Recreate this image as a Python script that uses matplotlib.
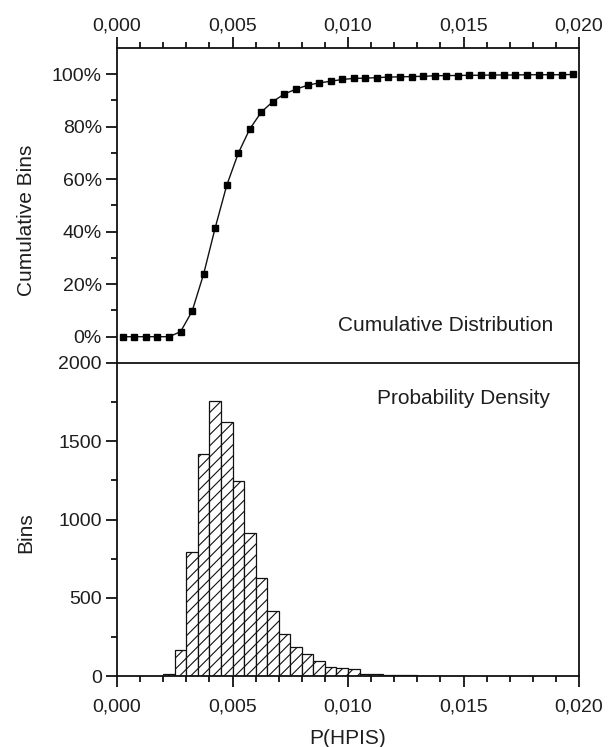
import matplotlib
matplotlib.use("Agg")
import matplotlib.pyplot as plt
from matplotlib.ticker import FixedLocator, MultipleLocator, FuncFormatter
import numpy as np

plt.rcParams['font.family'] = ['Liberation Sans', 'DejaVu Sans']
plt.rcParams['hatch.linewidth'] = 0.8

# ---- data ----
bin_width = 0.0005
hist_left_edges = [0.0020, 0.0025, 0.0030, 0.0035, 0.0040, 0.0045, 0.0050, 0.0055,
                   0.0060, 0.0065, 0.0070, 0.0075, 0.0080, 0.0085, 0.0090, 0.0095,
                   0.0100, 0.0105, 0.0110, 0.0115, 0.0120, 0.0125, 0.0130, 0.0135,
                   0.0140, 0.0145]
hist_counts = [10, 166, 795, 1417, 1760, 1621, 1246, 912,
               624, 415, 271, 183, 141, 94, 58, 53,
               43, 15, 12, 9, 7, 5, 2, 3,
               3, 1]

cum_x = [0.00025, 0.00075, 0.00125, 0.00175, 0.00225, 0.00275, 0.00325, 0.00375,
         0.00425, 0.00475, 0.00525, 0.00575, 0.00625, 0.00675, 0.00725, 0.00775,
         0.00825, 0.00875, 0.00925, 0.00975, 0.01025, 0.01075, 0.01125, 0.01175,
         0.01225, 0.01275, 0.01325, 0.01375, 0.01425, 0.01475, 0.01525, 0.01575,
         0.01625, 0.01675, 0.01725, 0.01775, 0.01825, 0.01875, 0.01925, 0.01975]
cum_pct = [0, 0, 0, 0, 0, 1.9, 9.7, 23.9,
           41.5, 57.7, 69.9, 79.2, 85.6, 89.6, 92.5, 94.3,
           95.8, 96.7, 97.3, 98.0, 98.4, 98.5, 98.7, 98.9,
           99.0, 99.1, 99.2, 99.4, 99.5, 99.5, 99.6, 99.6,
           99.7, 99.7, 99.7, 99.8, 99.8, 99.8, 99.8, 99.9]

x_major = [0.000, 0.005, 0.010, 0.015, 0.020]
cum_yticks = [0, 20, 40, 60, 80, 100]
bin_yticks = [0, 500, 1000, 1500, 2000]

TXT = '#1e1e1e'
FS_TICK = 14
FS_LABEL = 15

fig = plt.figure(figsize=(6.14, 7.47), dpi=100)
ax_top = fig.add_axes([0.1906, 0.5141, 0.7524, 0.4217])
ax_bot = fig.add_axes([0.1906, 0.0950, 0.7524, 0.4191])

comma_fmt = FuncFormatter(lambda v, p: f"{v:.3f}".replace('.', ','))

for ax in (ax_top, ax_bot):
    ax.set_xlim(0, 0.020)
    for s in ax.spines.values():
        s.set_linewidth(1.3)
        s.set_color('#111111')
    ax.xaxis.set_major_locator(FixedLocator(x_major))
    ax.xaxis.set_minor_locator(MultipleLocator(0.001))
    ax.xaxis.set_major_formatter(comma_fmt)
    ax.tick_params(which='major', direction='out', length=8, width=1.3,
                   labelsize=FS_TICK, labelcolor=TXT, color='#111111')
    ax.tick_params(which='minor', direction='out', length=4, width=1.3, color='#111111')
    ax.tick_params(axis='y', which='both', left=True, right=False, pad=3)

# ---- top: cumulative distribution ----
ax_top.plot(cum_x, cum_pct, color='#111111', lw=1.0, marker='s', ms=3.8,
            mfc='#000000', mec='#000000', zorder=3, clip_on=False)
ax_top.set_ylim(-10, 110)
ax_top.yaxis.set_major_locator(FixedLocator(cum_yticks))
ax_top.yaxis.set_minor_locator(FixedLocator([10, 30, 50, 70, 90]))
ax_top.yaxis.set_major_formatter(FuncFormatter(lambda v, p: f"{int(v)}%"))
ax_top.tick_params(axis='x', which='both', top=True, bottom=False,
                   labeltop=True, labelbottom=False, pad=2)
ax_top.spines['bottom'].set_visible(False)
ax_top.set_ylabel('Cumulative Bins', fontsize=FS_LABEL, color=TXT)
ax_top.yaxis.set_label_coords(-0.176, 0.454)
ax_top.text(0.944, 0.12, 'Cumulative Distribution', transform=ax_top.transAxes,
            ha='right', va='center', fontsize=FS_LABEL, color=TXT)

# ---- bottom: probability density histogram ----
ax_bot.bar(hist_left_edges, hist_counts, width=bin_width, align='edge',
           facecolor='white', edgecolor='#111111', linewidth=0.9, hatch='///')
ax_bot.set_ylim(0, 2000)
ax_bot.yaxis.set_major_locator(FixedLocator(bin_yticks))
ax_bot.yaxis.set_minor_locator(FixedLocator([250, 750, 1250, 1750]))
ax_bot.tick_params(axis='x', which='both', top=False, bottom=True,
                   labeltop=False, labelbottom=True, pad=8)
ax_bot.set_ylabel('Bins', fontsize=FS_LABEL, color=TXT)
ax_bot.yaxis.set_label_coords(-0.176, 0.457)
ax_bot.set_xlabel('P(HPIS)', fontsize=FS_LABEL, color=TXT, labelpad=10)
ax_bot.text(0.937, 0.888, 'Probability Density', transform=ax_bot.transAxes,
            ha='right', va='center', fontsize=FS_LABEL, color=TXT)

fig.savefig('out.png', dpi=100)
